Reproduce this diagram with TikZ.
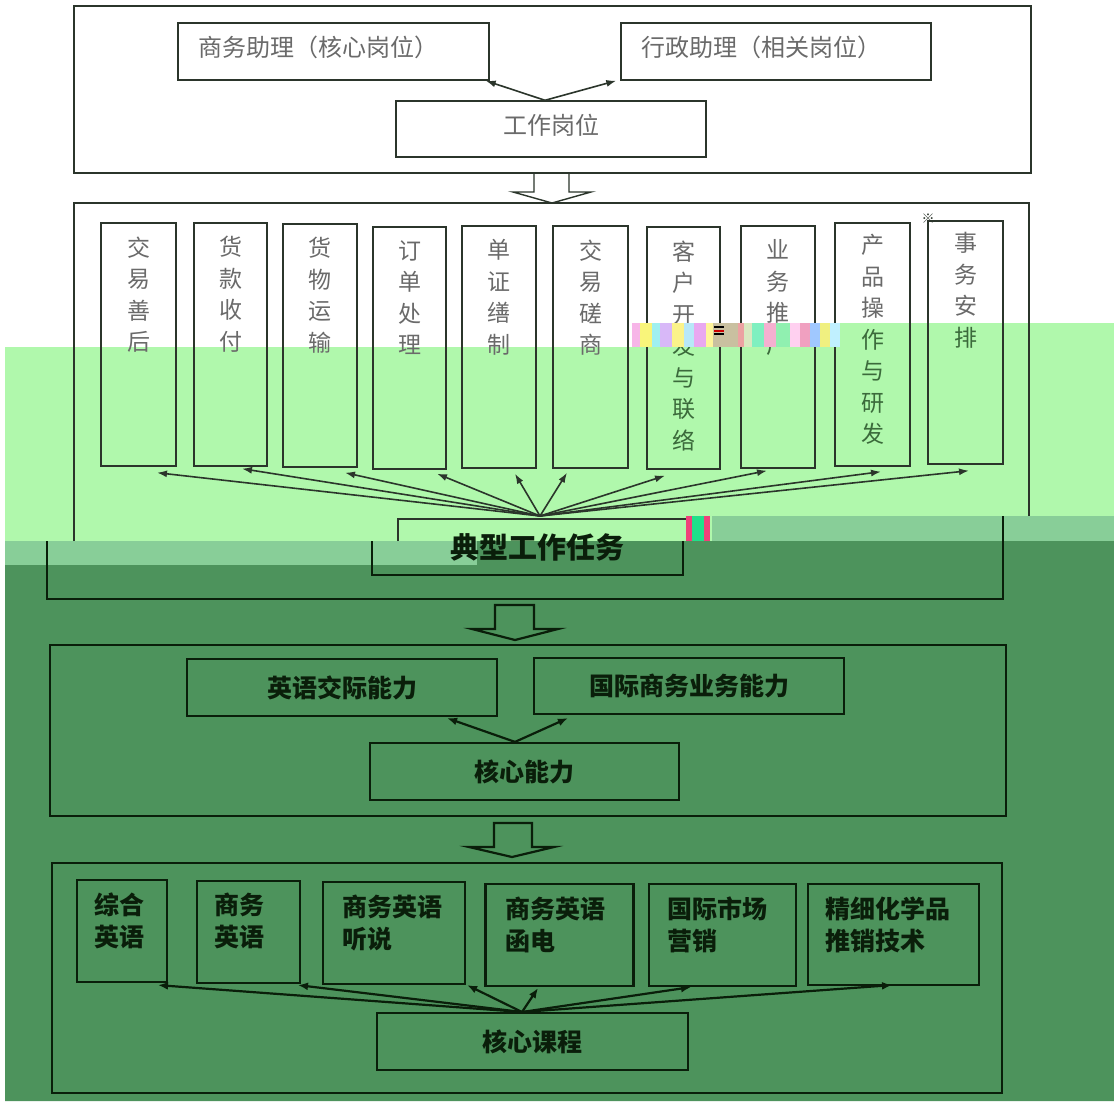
\documentclass[tikz,border=0pt]{standalone}
\usepackage{fontspec}
\newfontfamily\cjk{Noto Sans CJK SC}
\usetikzlibrary{arrows.meta,calc}
\definecolor{lg}{HTML}{B0F8AC}
\definecolor{mg}{HTML}{88CE98}
\definecolor{dg}{HTML}{4D935C}
\definecolor{tg}{HTML}{6A6A6A}
\definecolor{tgg}{HTML}{3B6A3B}
\definecolor{ln}{HTML}{2B352B}
\definecolor{dk}{HTML}{0A1E0A}
\definecolor{gp}{HTML}{F0407A}
\definecolor{gn}{HTML}{20E08A}
\tikzset{
  bx/.style={draw=ln, line width=1.4pt, inner sep=0pt},
  bbx/.style={draw=dk, line width=2.2pt, inner sep=0pt},
  arr/.style={draw=ln, line width=1.6pt, -{Latex[length=10pt,width=7pt]}},
  barr/.style={draw=dk, line width=2.2pt, -{Latex[length=10pt,width=8pt]}},
  ttxt/.style={text=tg, font=\cjk\fontsize{24}{28}\selectfont, text depth=10pt},
  vtxt/.style={text=tg, font=\cjk\fontsize{23}{31.5}\selectfont, align=center, inner sep=0pt, anchor=north},
  btxt/.style={text=dk, font=\cjk\bfseries\fontsize{25}{32}\selectfont},
  ctxt/.style={text=dk, font=\cjk\bfseries\fontsize{25}{32}\selectfont, align=left, inner sep=0pt, anchor=north west},
}
\begin{document}
\begin{tikzpicture}[x=1pt,y=-1pt]
\useasboundingbox (0,0) rectangle (1114,1101);
% ---------- backgrounds (scan artefacts) ----------
\fill[white] (0,0) rectangle (1114,1101);
\fill[lg] (5,347) -- (632,347) -- (632,323) -- (1114,323) -- (1114,516) -- (712,516) -- (712,541) -- (5,541) -- cycle;
\fill[mg] (5,541) rectangle (477,565);
\fill[mg] (712,516) rectangle (1114,541);
\fill[dg] (5,565) -- (477,565) -- (477,541) -- (1114,541) -- (1114,1101) -- (5,1101) -- cycle;
% ---------- top section ----------
\node[bx, minimum width=957pt, minimum height=167pt] (top) at (552.5,89.5) {};
\node[bx, ttxt, minimum width=311pt, minimum height=57pt, text width=271pt, align=left] (pa) at (333.5,51.5) {商务助理（核心岗位）};
\node[bx, ttxt, minimum width=310pt, minimum height=57pt, text width=270pt, align=left] (pb) at (776,51.5) {行政助理（相关岗位）};
\node[bx, ttxt, minimum width=310pt, minimum height=56pt] (pc) at (551,129) {工作岗位};
\draw[arr] ([xshift=-6pt]pc.north) -- ([xshift=-4pt]pa.south east);
\draw[arr] ([xshift=-6pt]pc.north) -- ([xshift=-4pt]pb.south west);
% block arrow 1
\draw[ln, line width=1.4pt] (534,173) -- (534,192) -- (513,192) -- (552,203) -- (591,192) -- (569,192) -- (569,173);
% ---------- task section ----------
\draw[ln, line width=1.4pt] (74,541) -- (74,203) -- (1029,203) -- (1029,516);
\draw[dk, line width=1.6pt] (47,541) -- (47,599) -- (1003,599) -- (1003,516);
\node[bx, minimum width=75pt, minimum height=243pt] (b1) at (138.5,344.5) {};
\node[bx, minimum width=73pt, minimum height=243pt] (b2) at (230.5,344.5) {};
\node[bx, minimum width=74pt, minimum height=243pt] (b3) at (320,345.5) {};
\node[bx, minimum width=73pt, minimum height=242pt] (b4) at (409.5,348) {};
\node[bx, minimum width=74pt, minimum height=242pt] (b5) at (499,347) {};
\node[bx, minimum width=75pt, minimum height=242pt] (b6) at (590.5,347) {};
\node[bx, minimum width=73pt, minimum height=242pt] (b7) at (683.5,348) {};
\node[bx, minimum width=74pt, minimum height=242pt] (b8) at (778,347) {};
\node[bx, minimum width=75pt, minimum height=243pt] (b9) at (872.5,344.5) {};
\node[bx, minimum width=75pt, minimum height=243pt] (b10) at (965.5,342.5) {};
\node[vtxt] (t1) at ([yshift=-14pt]b1.north) {交\\易\\善\\后};
\node[vtxt] (t2) at ([yshift=-14pt]b2.north) {货\\款\\收\\付};
\node[vtxt] (t3) at ([yshift=-14pt]b3.north) {货\\物\\运\\输};
\node[vtxt] (t4) at ([yshift=-14pt]b4.north) {订\\单\\处\\理};
\node[vtxt] (t5) at ([yshift=-14pt]b5.north) {单\\证\\缮\\制};
\node[vtxt] (t6) at ([yshift=-14pt]b6.north) {交\\易\\磋\\商};
\node[vtxt] (t7) at ([yshift=-14pt]b7.north) {客\\户\\开\\{\color{tgg}发}\\{\color{tgg}与}\\{\color{tgg}联}\\{\color{tgg}络}};
\node[vtxt] (t8) at ([yshift=-14pt]b8.north) {业\\务\\推\\{\color{tgg}广}};
\node[vtxt] (t9) at ([yshift=-12pt]b9.north) {产\\品\\操\\{\color{tgg}作}\\{\color{tgg}与}\\{\color{tgg}研}\\{\color{tgg}发}};
\node[vtxt] (t10) at ([yshift=-12pt]b10.north) {事\\务\\安\\{\color{tgg}排}};
\node[text=ln, font=\cjk\fontsize{13}{14}\selectfont, inner sep=0pt] (mark) at (928,219) {※};
% task box (partly shifted in the scan)
\draw[ln, line width=1.6pt] (398,541) -- (398,519) -- (686,519);
\draw[dk, line width=2pt] (372,541) -- (372,575) -- (683,575) -- (683,541);
\node[btxt, font=\cjk\bfseries\fontsize{29}{32}\selectfont, inner sep=0pt] (task) at (537,547) {典型工作任务};
\coordinate (hub) at (540,516);
\draw[arr] (hub) -- ([xshift=18.5pt,yshift=-6pt]b1.south);
\draw[arr] (hub) -- ([xshift=11.5pt,yshift=-2pt]b2.south);
\draw[arr] (hub) -- ([xshift=25pt,yshift=-5pt]b3.south);
\draw[arr] (hub) -- ([xshift=27.5pt,yshift=-4pt]b4.south);
\draw[arr] (hub) -- ([xshift=16pt,yshift=-5pt]b5.south);
\draw[arr] (hub) -- ([xshift=-23.5pt,yshift=-4pt]b6.south);
\draw[arr] (hub) -- ([xshift=-18.5pt,yshift=-6pt]b7.south);
\draw[arr] (hub) -- ([xshift=-11pt,yshift=-2pt]b8.south);
\draw[arr] (hub) -- ([xshift=8.5pt,yshift=-5pt]b9.south);
\draw[arr] (hub) -- ([xshift=3.5pt,yshift=-6pt]b10.south);
% glitch strips
\foreach \xa/\xb/\cc in {632/640/F7B5E8, 640/652/F9F57A, 652/660/9FF0F0, 660/672/D8B8F8, 672/684/FBF38A, 684/694/B8E8F8, 694/706/E9A8F0, 706/713/FFF59A, 713/738/C9C0A0, 738/744/ECA2A2, 744/752/D9E8C0, 752/764/7FF0C0, 764/776/F5B0D0, 776/790/90F0B0, 790/800/FFD0F0, 800/810/F0A0C0, 810/820/A0C8FF, 820/830/F0F080, 830/840/C0F0FF}
  {\definecolor{gl}{HTML}{\cc}\fill[gl] (\xa,323) rectangle (\xb,347);}
\fill[black] (714,326) rectangle (724,328);
\fill[red!80!black] (714,329.5) rectangle (724,331.5);
\fill[black] (714,333) rectangle (724,335);
\fill[gp] (686,516) rectangle (692,541);
\fill[gn] (692,516) rectangle (704,541);
\fill[gp] (704,516) rectangle (710,541);
% block arrow 2
\draw[dk, line width=2.2pt] (495,605) -- (495,629) -- (472,629) -- (515,640) -- (558,629) -- (534,629) -- (534,605) -- cycle;
% ---------- ability section ----------
\node[bbx, minimum width=956pt, minimum height=171pt] (abil) at (528,730.5) {};
\node[bbx, btxt, minimum width=310pt, minimum height=57pt] (e1) at (342,687.5) {英语交际能力};
\node[bbx, btxt, minimum width=310pt, minimum height=56pt] (e2) at (689,686) {国际商务业务能力};
\node[bbx, btxt, minimum width=309pt, minimum height=57pt] (core) at (524.5,771.5) {核心能力};
\draw[barr] ([xshift=-9.5pt]core.north) -- ([xshift=-51pt,yshift=-1pt]e1.south east);
\draw[barr] ([xshift=-9.5pt]core.north) -- ([xshift=35pt,yshift=-3pt]e2.south west);
% block arrow 3
\draw[dk, line width=2.2pt] (494,823) -- (494,847) -- (469,847) -- (512,857) -- (554,847) -- (532,847) -- (532,823) -- cycle;
% ---------- course section ----------
\node[bbx, minimum width=950pt, minimum height=230pt] (crs) at (527,978) {};
\node[bbx, minimum width=90pt, minimum height=102pt] (c1) at (122,931) {};
\node[bbx, minimum width=103pt, minimum height=102pt] (c2) at (248.5,932) {};
\node[bbx, minimum width=142pt, minimum height=102pt] (c3) at (394,933) {};
\node[bbx, minimum width=148pt, minimum height=102pt] (c4) at (559.5,935) {};
\node[bbx, minimum width=147pt, minimum height=102pt] (c5) at (722.5,935) {};
\node[bbx, minimum width=171pt, minimum height=101pt] (c6) at (893.5,934.5) {};
\node[ctxt] (ct1) at ([xshift=18pt,yshift=-14pt]c1.north west) {综合\\英语};
\node[ctxt] (ct2) at ([xshift=18pt,yshift=-13pt]c2.north west) {商务\\英语};
\node[ctxt] (ct3) at ([xshift=20pt,yshift=-14pt]c3.north west) {商务英语\\听说};
\node[ctxt] (ct4) at ([xshift=21pt,yshift=-14pt]c4.north west) {商务英语\\函电};
\node[ctxt] (ct5) at ([xshift=19pt,yshift=-14pt]c5.north west) {国际市场\\营销};
\node[ctxt] (ct6) at ([xshift=18pt,yshift=-14pt]c6.north west) {精细化学品\\推销技术};
\node[bbx, btxt, minimum width=311pt, minimum height=57pt] (cc) at (532.5,1041.5) {核心课程};
\coordinate (chub) at (522,1012);
\draw[barr] (chub) -- ([xshift=36pt,yshift=-2pt]c1.south);
\draw[barr] (chub) -- ([xshift=49.5pt,yshift=-1pt]c2.south);
\draw[barr] (chub) -- ([xshift=1pt]c3.south east);
\draw[barr] (chub) -- ([xshift=-21.5pt,yshift=-1pt]c4.south);
\draw[barr] (chub) -- ([xshift=-31.5pt]c5.south);
\draw[barr] (chub) -- ([xshift=-1.5pt,yshift=1pt]c6.south);
\end{tikzpicture}
\end{document}
